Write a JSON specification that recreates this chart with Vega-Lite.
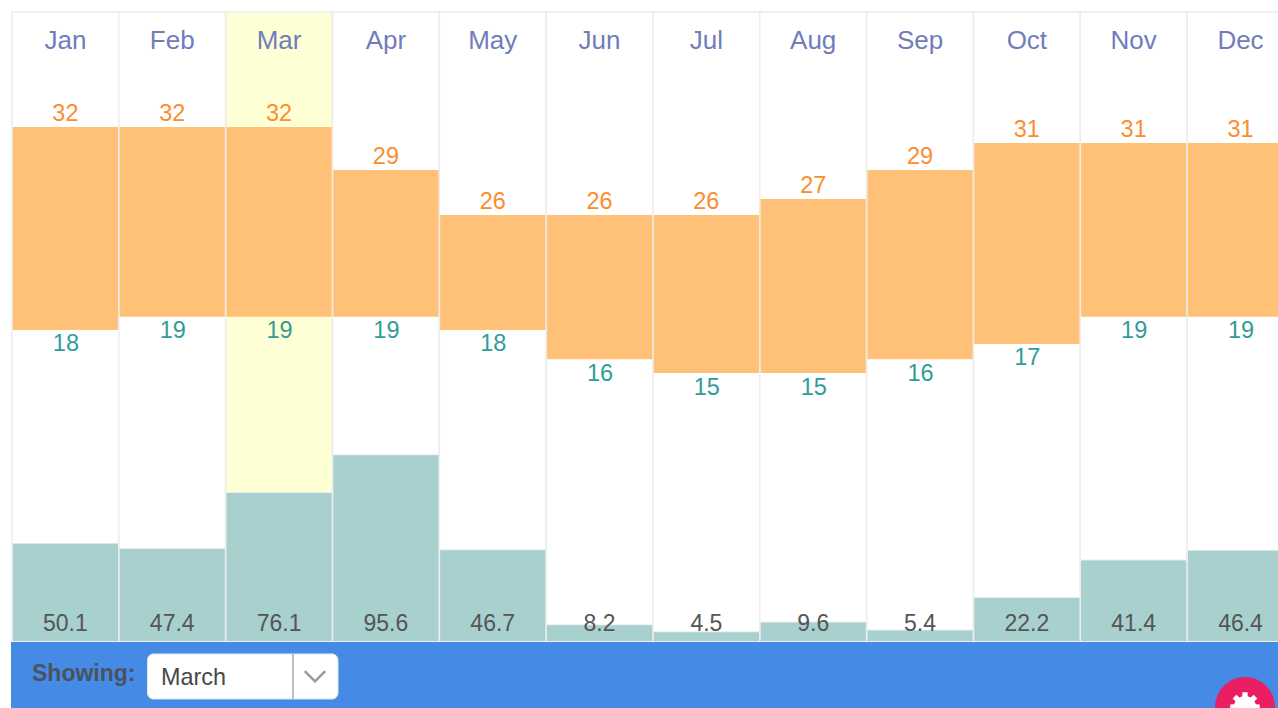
{
"$schema":"https://vega.github.io/schema/vega-lite/v6.json",
"width":1278,"height":708,"padding":0,"autosize":{"type":"none"},
"background":"#ffffff",
"config":{"view":{"stroke":null},"text":{"font":"Liberation Sans"}},
"datasets":{"months":[
{"month":"Jan","start":0,"end":1,"high":32,"low":18.1,"rain":50.1},
{"month":"Feb","start":1,"end":2,"high":32,"low":19,"rain":47.4},
{"month":"Mar","start":2,"end":3,"high":32,"low":19,"rain":76.1},
{"month":"Apr","start":3,"end":4,"high":29.05,"low":19,"rain":95.6},
{"month":"May","start":4,"end":5,"high":25.97,"low":18.1,"rain":46.7},
{"month":"Jun","start":5,"end":6,"high":25.97,"low":16.1,"rain":8.2},
{"month":"Jul","start":6,"end":7,"high":25.97,"low":15.15,"rain":4.5},
{"month":"Aug","start":7,"end":8,"high":27.07,"low":15.15,"rain":9.6},
{"month":"Sep","start":8,"end":9,"high":29.05,"low":16.1,"rain":5.4},
{"month":"Oct","start":9,"end":10,"high":30.9,"low":17.14,"rain":22.2},
{"month":"Nov","start":10,"end":11,"high":30.9,"low":19,"rain":41.4},
{"month":"Dec","start":11,"end":12,"high":30.9,"low":19,"rain":46.4}
],"chrome":[{"label":"Showing:","selected":"March"}]},
"data":{"name":"months"},
"layer":[
  {"mark":{"type":"rect","stroke":"#ececec","strokeWidth":1.5},
   "encoding":{"x":{"field":"start","type":"quantitative","axis":null,"scale":{"domain":[-0.1123,11.8508],"nice":false,"zero":false}},"x2":{"field":"end"},
   "y":{"field":"rain","type":"quantitative","axis":null,"scale":{"domain":[-34.4,329.6],"nice":false,"zero":false}},"y2":{"datum":323.4},
   "fill":{"condition":{"test":"datum.month==='Mar'","value":"#ffffd6"},"value":"#ffffff"}}},
  {"mark":{"type":"rect","fill":"#ffffff","stroke":"#ececec","strokeWidth":1.5},
   "encoding":{"x":{"field":"start","type":"quantitative","axis":null},"x2":{"field":"end"},
   "y":{"field":"rain","type":"quantitative","axis":null,"scale":{"domain":[-34.4,329.6],"nice":false,"zero":false}},"y2":{"datum":0}}},
  {"mark":{"type":"rect","fill":"#a7d0cf","xOffset":0.8,"x2Offset":-0.8},
   "encoding":{"x":{"field":"start","type":"quantitative","axis":null},"x2":{"field":"end"},
   "y":{"field":"rain","type":"quantitative","axis":null,"scale":{"domain":[-34.4,329.6],"nice":false,"zero":false}},"y2":{"datum":0}}},
  {"mark":{"type":"text","fontSize":23,"color":"#555555","baseline":"middle","align":"center","dx":53.4},
   "encoding":{"x":{"field":"start","type":"quantitative","axis":null},
   "y":{"datum":8.8,"type":"quantitative","axis":null,"scale":{"domain":[-34.4,329.6],"nice":false,"zero":false}},
   "text":{"field":"rain","type":"quantitative","format":".1f"}}},
  {"mark":{"type":"rect","fill":"#ffc177","xOffset":0.8,"x2Offset":-0.8},
   "encoding":{"x":{"field":"start","type":"quantitative","axis":null},"x2":{"field":"end"},
   "y":{"field":"high","type":"quantitative","axis":null,"scale":{"domain":[-7.79,40.7],"nice":false,"zero":false}},"y2":{"field":"low"}}},
  {"mark":{"type":"text","fontSize":23.5,"color":"#fb8d2e","baseline":"middle","align":"center","dy":-13,"dx":53.4},
   "encoding":{"x":{"field":"start","type":"quantitative","axis":null},
   "y":{"field":"high","type":"quantitative","axis":null,"scale":{"domain":[-7.79,40.7],"nice":false,"zero":false}},
   "text":{"field":"high","type":"quantitative","format":".0f"}}},
  {"mark":{"type":"text","fontSize":23.5,"color":"#2f9c9a","baseline":"middle","align":"center","dy":14.5,"dx":53.9},
   "encoding":{"x":{"field":"start","type":"quantitative","axis":null},
   "y":{"field":"low","type":"quantitative","axis":null,"scale":{"domain":[-7.79,40.7],"nice":false,"zero":false}},
   "text":{"field":"low","type":"quantitative","format":".0f"}}},
  {"mark":{"type":"text","fontSize":26,"color":"#6f7dbb","baseline":"middle","align":"center","dx":53.4},
   "encoding":{"x":{"field":"start","type":"quantitative","axis":null},
   "y":{"datum":37.9,"type":"quantitative","axis":null,"scale":{"domain":[-7.79,40.7],"nice":false,"zero":false}},
   "text":{"field":"month","type":"nominal"}}},
  {"data":{"name":"chrome"},"mark":{"type":"rect","fill":"#458ae5"},
   "encoding":{"x":{"datum":-0.0094,"type":"quantitative","axis":null},"x2":{"datum":11.8508},
   "y":{"datum":90.68,"type":"quantitative","axis":null,"scale":{"domain":[0,100],"reverse":true,"nice":false,"zero":false}},"y2":{"datum":100}}},
  {"data":{"name":"chrome"},"mark":{"type":"rect","fill":"#ffffff","cornerRadius":6,"stroke":"#dfe7f3","strokeWidth":1},
   "encoding":{"x":{"datum":1.2684,"type":"quantitative","axis":null},"x2":{"datum":3.0516},
   "y":{"datum":92.37,"type":"quantitative","axis":null,"scale":{"domain":[0,100],"reverse":true,"nice":false,"zero":false}},"y2":{"datum":98.73}}},
  {"data":{"name":"chrome"},"mark":{"type":"rule","stroke":"#aaaaaa","strokeWidth":1.5},
   "encoding":{"x":{"datum":2.6304,"type":"quantitative","axis":null},
   "y":{"datum":92.37,"type":"quantitative","axis":null,"scale":{"domain":[0,100],"reverse":true,"nice":false,"zero":false}},"y2":{"datum":98.73}}},
  {"data":{"name":"chrome"},"mark":{"type":"point","shape":"M-1,-0.5L0,0.5L1,-0.5","filled":false,"stroke":"#9a9a9a","strokeWidth":2.5,"size":420,"opacity":1},
   "encoding":{"x":{"datum":2.8363,"type":"quantitative","axis":null},
   "y":{"datum":95.5,"type":"quantitative","axis":null,"scale":{"domain":[0,100],"reverse":true,"nice":false,"zero":false}}}},
  {"data":{"name":"chrome"},"mark":{"type":"text","fontSize":23,"fontWeight":"bold","color":"#4a5260","align":"left","baseline":"middle"},
   "encoding":{"x":{"datum":0.1872,"type":"quantitative","axis":null},
   "y":{"datum":95.2,"type":"quantitative","axis":null,"scale":{"domain":[0,100],"reverse":true,"nice":false,"zero":false}},"text":{"field":"label","type":"nominal"}}},
  {"data":{"name":"chrome"},"mark":{"type":"text","fontSize":23.4,"color":"#484848","align":"left","baseline":"middle"},
   "encoding":{"x":{"datum":1.3947,"type":"quantitative","axis":null},
   "y":{"datum":95.75,"type":"quantitative","axis":null,"scale":{"domain":[0,100],"reverse":true,"nice":false,"zero":false}},"text":{"field":"selected","type":"nominal"}}},
  {"data":{"name":"chrome"},"mark":{"type":"point","shape":"circle","filled":true,"fill":"#e91e63","opacity":1,"size":3600},
   "encoding":{"x":{"datum":11.5417,"type":"quantitative","axis":null},
   "y":{"datum":99.86,"type":"quantitative","axis":null,"scale":{"domain":[0,100],"reverse":true,"nice":false,"zero":false}}}},
  {"data":{"name":"chrome"},"mark":{"type":"point","filled":true,"fill":"#ffffff","opacity":1,"size":900,"shape":"M-.179,-.718L-.174,-.985L.174,-.985L.179,-.718L.381,-.634L.573,-.819L.819,-.573L.634,-.381L.718,-.179L.985,-.174L.985,.174L.718,.179L.634,.381L.819,.573L.573,.819L.381,.634L.179,.718L.174,.985L-.174,.985L-.179,.718L-.381,.634L-.573,.819L-.819,.573L-.634,.381L-.718,.179L-.985,.174L-.985,-.174L-.718,-.179L-.634,-.381L-.819,-.573L-.573,-.819L-.381,-.634Z"},
   "encoding":{"x":{"datum":11.5417,"type":"quantitative","axis":null},
   "y":{"datum":99.86,"type":"quantitative","axis":null,"scale":{"domain":[0,100],"reverse":true,"nice":false,"zero":false}}}}
],
"resolve":{"scale":{"y":"independent"}}
}
